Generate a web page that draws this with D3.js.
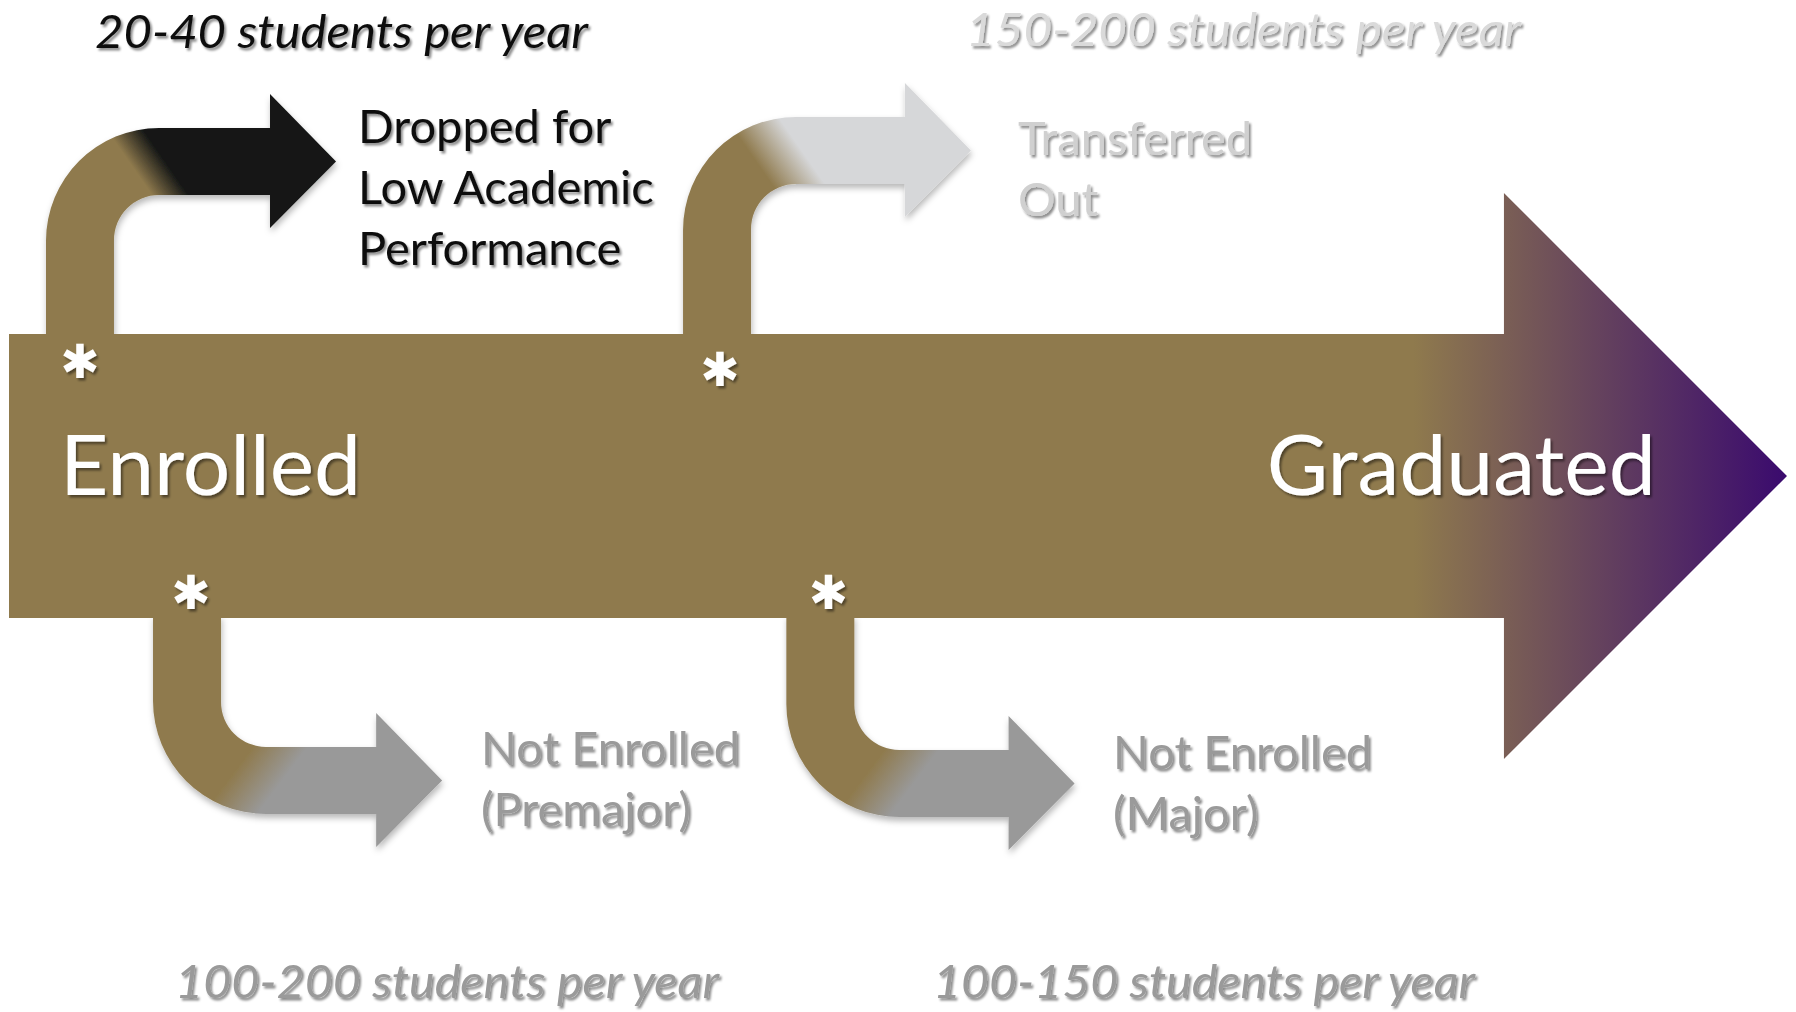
<!DOCTYPE html>
<html>
<head>
<meta charset="utf-8">
<script src="https://cdn.jsdelivr.net/npm/d3@7"></script>
<style>
  html, body { margin: 0; padding: 0; background: #ffffff; }
  svg { display: block; }
</style>
</head>
<body>
<svg id="chart" width="1796" height="1012"></svg>
<script>
// ---------- DATA ----------
const stageLabels = ["Enrolled", "Graduated"];
const outcomeLines = [
  ["Dropped for", "Low Academic", "Performance"],
  ["Transferred", "Out"],
  ["Not Enrolled", "(Premajor)"],
  ["Not Enrolled", "(Major)"]
];
const outcomeSide = ["top", "top", "bottom", "bottom"];
const lowCounts  = [20, 150, 100, 100];
const highCounts = [40, 200, 200, 150];
const countUnit  = "students per year";
const outcomeColors = ["#161817", "#D6D7D9", "#999999", "#999999"];
const labelColors   = ["#111111", "#D0D0D0", "#9A9A9A", "#9A9A9A"];
const baseColor = "#8F7A4D";
const gradColor = "#3A0A6E";

// ---------- LAYOUT ----------
const svg = d3.select("#chart");
const defs = svg.append("defs");

// progress scale along the main flow (0 = enrolled start, 1 = graduated tip)
const x = d3.scaleLinear().domain([0, 1]).range([9, 1787]);
const y = d3.scaleLinear().domain([-1, 1]).range([334, 618]); // main bar band

const barTop = y(-1), barBot = y(1), barMid = y(0);
const headBase = x(0.8408);
const headHalf = 283;

// branch layout (progress position of shaft, band y, head base progress, marker offset)
const branchLayout = [
  { p: 0.0208, band: 128, hb: 0.1468, gOff: 33, ax: 34, ay: 27 },
  { p: 0.3791, band: 117, hb: 0.5039, gOff: 24, ax: 37, ay: 35 },
  { p: 0.0810, band: 747, hb: 0.2065, gOff: 34, ax: 38, ay: -26 },
  { p: 0.4372, band: 750, hb: 0.5622, gOff: 32, ax: 42, ay: -26 }
];
const shaftW = 68, bandW = 67, Ri = 45, Ro = Ri + shaftW;
const headOver = 34, headLen = 66;

// filters
const fText = defs.append("filter").attr("id", "tshadow")
  .attr("x", "-10%").attr("y", "-20%").attr("width", "130%").attr("height", "150%");
fText.append("feDropShadow").attr("dx", 2).attr("dy", 2.5).attr("stdDeviation", 1.3)
  .attr("flood-color", "#000").attr("flood-opacity", 0.45);

const fArrow = defs.append("filter").attr("id", "ashadow")
  .attr("x", "-20%").attr("y", "-20%").attr("width", "140%").attr("height", "150%");
fArrow.append("feDropShadow").attr("dx", 1).attr("dy", 4).attr("stdDeviation", 3)
  .attr("flood-color", "#000").attr("flood-opacity", 0.28);

// ---------- BRANCH ARROWS ----------
const gBranches = svg.append("g");
branchLayout.forEach((b, i) => {
  const side = outcomeSide[i];
  const xL = x(b.p), xR = xL + shaftW;
  const hb = x(b.hb);
  const bandT = b.band, bandB = b.band + bandW;
  const cy = (bandT + bandB) / 2;
  const hTop = bandT - headOver, hBot = bandB + headOver - 1;
  const tipX = hb + headLen;
  const p = d3.path();
  if (side === "top") {
    p.moveTo(xL, barTop + 3);
    p.lineTo(xL, bandT + Ro);
    p.arcTo(xL, bandT, xL + Ro, bandT, Ro);
    p.lineTo(hb, bandT); p.lineTo(hb, hTop); p.lineTo(tipX, cy);
    p.lineTo(hb, hBot); p.lineTo(hb, bandB);
    p.lineTo(xR + Ri, bandB);
    p.arcTo(xR, bandB, xR, bandB + Ri, Ri);
    p.lineTo(xR, barTop + 3);
  } else {
    p.moveTo(xL, barBot - 3);
    p.lineTo(xL, bandB - Ro);
    p.arcTo(xL, bandB, xL + Ro, bandB, Ro);
    p.lineTo(hb, bandB); p.lineTo(hb, hBot); p.lineTo(tipX, cy);
    p.lineTo(hb, hTop); p.lineTo(hb, bandT);
    p.lineTo(xR + Ri, bandT);
    p.arcTo(xR, bandT, xR, bandT - Ri, Ri);
    p.lineTo(xR, barBot - 3);
  }
  p.closePath();

  // gradient across the bend
  const d = side === "top" ? [0.82, -0.57] : [0.80, 0.60];
  const half = side === "top" ? (i === 1 ? 22 : 15) : 22;
  const mx = xR + b.gOff, my = cy;
  const gid = "bg" + i;
  const lg = defs.append("linearGradient").attr("id", gid)
    .attr("gradientUnits", "userSpaceOnUse")
    .attr("x1", mx - d[0] * half).attr("y1", my - d[1] * half)
    .attr("x2", mx + d[0] * half).attr("y2", my + d[1] * half);
  lg.append("stop").attr("offset", 0).attr("stop-color", baseColor);
  lg.append("stop").attr("offset", 1).attr("stop-color", outcomeColors[i]);

  gBranches.append("path").attr("d", p.toString())
    .attr("fill", `url(#${gid})`).attr("filter", "url(#ashadow)");
});

// ---------- MAIN ARROW ----------
const mg = defs.append("linearGradient").attr("id", "maingrad")
  .attr("gradientUnits", "userSpaceOnUse")
  .attr("x1", x(0.79)).attr("y1", 0).attr("x2", x(1)).attr("y2", 0);
mg.append("stop").attr("offset", 0).attr("stop-color", baseColor);
mg.append("stop").attr("offset", 1).attr("stop-color", gradColor);

const mp = d3.path();
mp.moveTo(x(0), barTop);
mp.lineTo(headBase, barTop);
mp.lineTo(headBase, barMid - headHalf);
mp.lineTo(x(1), barMid);
mp.lineTo(headBase, barMid + headHalf);
mp.lineTo(headBase, barBot);
mp.lineTo(x(0), barBot);
mp.closePath();
svg.append("path").attr("d", mp.toString()).attr("fill", "url(#maingrad)");

// ---------- ASTERISKS (footnote markers) ----------
const astPos = branchLayout.map((b, i) => ({
  cx: x(b.p) + b.ax,
  cy: (outcomeSide[i] === "top" ? barTop : barBot) + b.ay
}));
svg.append("g").selectAll("text").data(astPos).join("text")
  .attr("x", d => d.cx).attr("y", d => d.cy)
  .attr("text-anchor", "middle")
  .attr("dominant-baseline", "central")
  .attr("font-family", "'DejaVu Sans', sans-serif")
  .attr("font-size", 47)
  .attr("fill", "#ffffff").attr("filter", "url(#tshadow)")
  .text("\u2731");

// ---------- STAGE LABELS ----------
const stageX = [x(0.0287), x(0.7074)];
const stageLen = [301, 389];
svg.append("g").selectAll("text").data(stageLabels).join("text")
  .attr("x", (d, i) => stageX[i]).attr("y", barMid + 19)
  .attr("font-family", "Lato, 'Open Sans', sans-serif")
  .attr("font-size", 84)
  .attr("textLength", (d, i) => stageLen[i]).attr("lengthAdjust", "spacingAndGlyphs")
  .attr("fill", "#ffffff").attr("filter", "url(#tshadow)")
  .text(d => d);

// ---------- OUTCOME LABELS ----------
const labelPos = [
  { x: 358, y: 143 },
  { x: 1018, y: 155 },
  { x: 481, y: 765 },
  { x: 1113, y: 769 }
];
const lineH = 61;
const gLab = svg.append("g");
outcomeLines.forEach((lines, i) => {
  const t = gLab.append("text")
    .attr("font-family", "Lato, 'Open Sans', sans-serif")
    .attr("font-size", 47)
    .attr("fill", labelColors[i]).attr("filter", "url(#tshadow)");
  lines.forEach((ln, j) => {
    t.append("tspan").attr("x", labelPos[i].x).attr("y", labelPos[i].y + j * lineH).text(ln);
  });
});

// ---------- COUNT LABELS ----------
const countPos = [
  { x: 95, y: 48, len: 493 },
  { x: 966, y: 46, len: 555 },
  { x: 175, y: 998, len: 544 },
  { x: 933, y: 998, len: 542 }
];
const countFill = ["#111111", "#DADADA", "#9A9A9A", "#9A9A9A"];
svg.append("g").selectAll("text").data(lowCounts).join("text")
  .attr("x", (d, i) => countPos[i].x).attr("y", (d, i) => countPos[i].y)
  .attr("font-family", "Lato, 'Open Sans', sans-serif")
  .attr("font-style", "italic")
  .attr("font-size", 46)
  .attr("textLength", (d, i) => countPos[i].len).attr("lengthAdjust", "spacingAndGlyphs")
  .attr("fill", (d, i) => countFill[i]).attr("filter", "url(#tshadow)")
  .text((d, i) => `${d}-${highCounts[i]} ${countUnit}`);
</script>
</body>
</html>
